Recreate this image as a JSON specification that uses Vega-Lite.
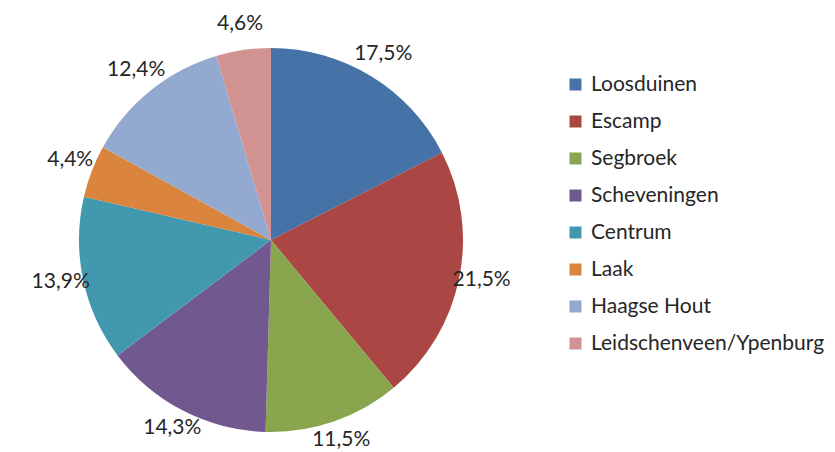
{
  "$schema": "https://vega.github.io/schema/vega-lite/v6.json",
  "width": 542,
  "height": 424,
  "padding": {"top": 28, "left": 0, "right": 293, "bottom": 0},
  "autosize": {"type": "none"},
  "background": "white",
  "view": {"stroke": null},
  "data": {
    "values": [
      {"order": 1, "wijk": "Loosduinen", "value": 17.5, "label": "17,5%"},
      {"order": 2, "wijk": "Escamp", "value": 21.5, "label": "21,5%"},
      {"order": 3, "wijk": "Segbroek", "value": 11.5, "label": "11,5%"},
      {"order": 4, "wijk": "Scheveningen", "value": 14.3, "label": "14,3%"},
      {"order": 5, "wijk": "Centrum", "value": 13.9, "label": "13,9%"},
      {"order": 6, "wijk": "Laak", "value": 4.4, "label": "4,4%"},
      {"order": 7, "wijk": "Haagse Hout", "value": 12.4, "label": "12,4%"},
      {"order": 8, "wijk": "Leidschenveen/Ypenburg", "value": 4.6, "label": "4,6%"}
    ]
  },
  "encoding": {
    "theta": {"field": "value", "type": "quantitative", "stack": true},
    "order": {"field": "order", "type": "quantitative"},
    "color": {
      "field": "wijk",
      "type": "nominal",
      "scale": {
        "domain": ["Loosduinen", "Escamp", "Segbroek", "Scheveningen", "Centrum", "Laak", "Haagse Hout", "Leidschenveen/Ypenburg"],
        "range": ["#4572A7", "#AA4643", "#89A54E", "#71588F", "#4198AF", "#DB843D", "#93A9CF", "#D19392"]
      },
      "legend": {
        "title": null,
        "orient": "none",
        "legendX": 565,
        "legendY": 46,
        "symbolType": "square",
        "symbolSize": 144,
        "symbolStrokeWidth": 0,
        "labelFont": "Lato",
        "labelFontSize": 21,
        "labelColor": "#262626",
        "labelOffset": 5,
        "rowPadding": 15,
        "labelLimit": 300
      }
    }
  },
  "layer": [
    {"mark": {"type": "arc", "outerRadius": 192}},
    {
      "mark": {"type": "text", "radius": 215, "fontSize": 21, "font": "Lato", "color": "#262626", "dy": -3},
      "encoding": {"text": {"field": "label"}, "color": {"value": "#262626"}}
    }
  ]
}
